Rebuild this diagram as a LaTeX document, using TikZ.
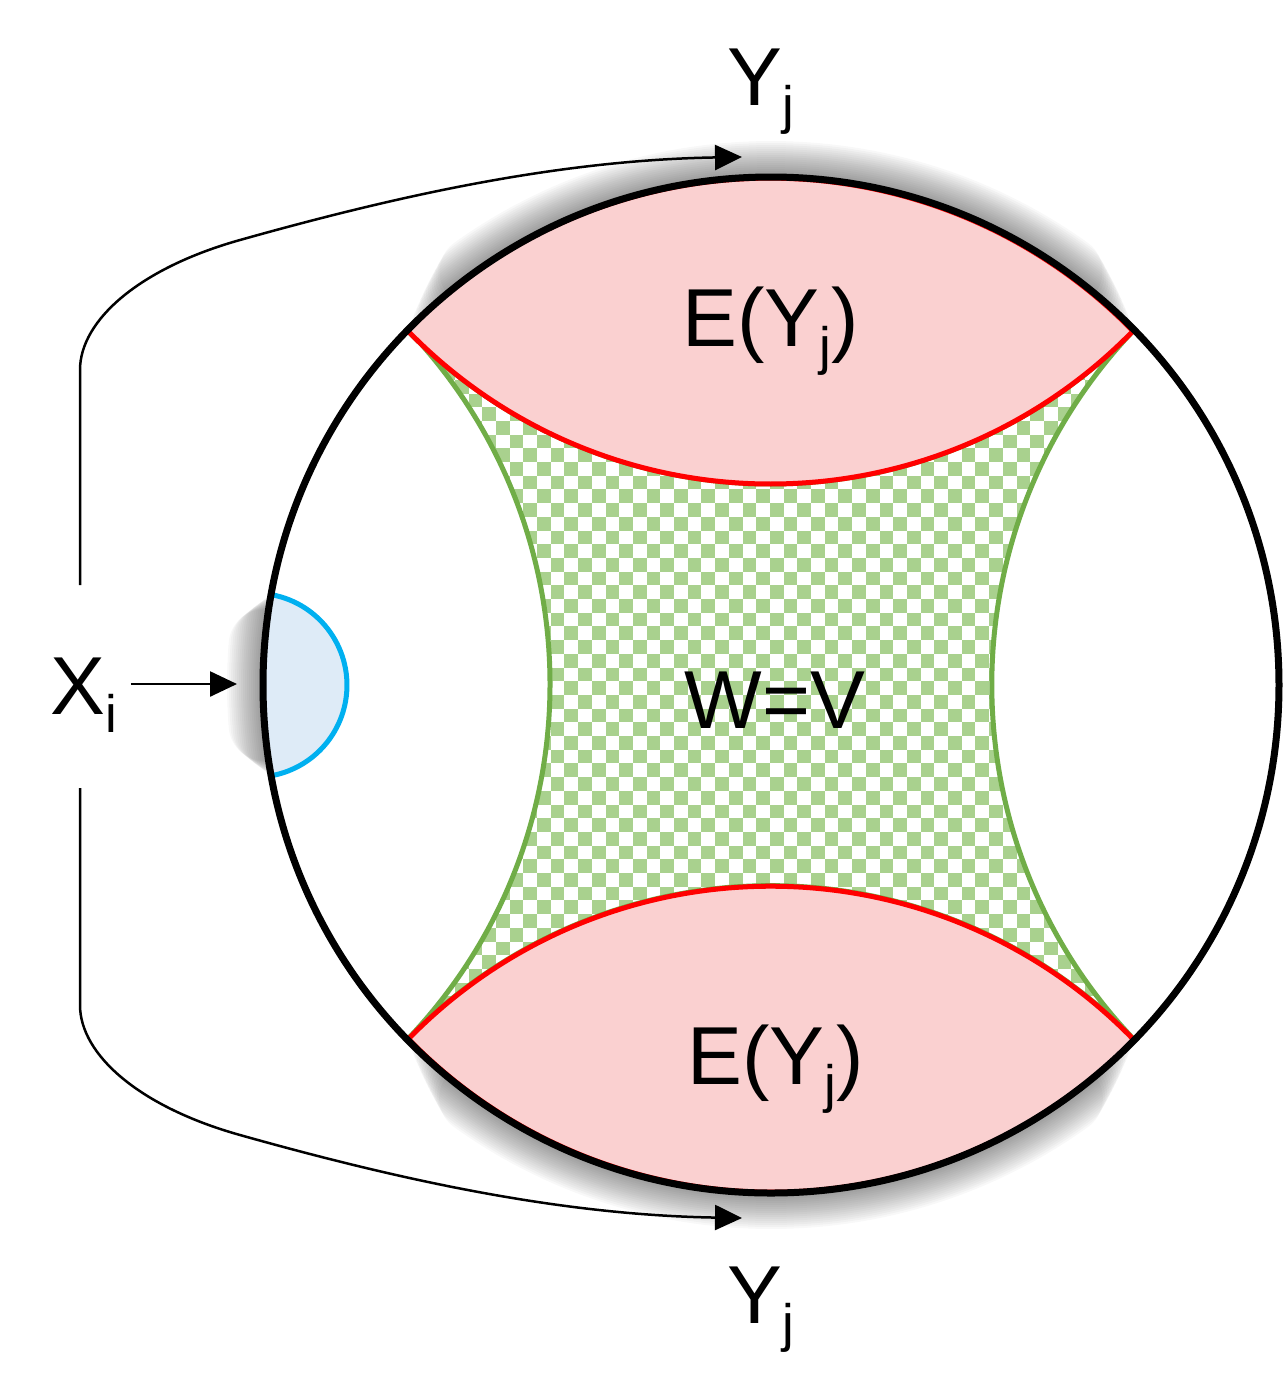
\documentclass[tikz,border=0pt]{standalone}
\usepackage{fontspec}
\setmainfont{Liberation Sans}
\usetikzlibrary{arrows.meta}

\definecolor{capfill}{RGB}{250,208,208}
\definecolor{capline}{RGB}{255,0,0}
\definecolor{wline}{RGB}{112,173,71}
\definecolor{wcheck}{RGB}{169,209,142}
\definecolor{xfill}{RGB}{222,235,247}
\definecolor{xline}{RGB}{0,176,240}

\newcommand{\lsub}[1]{\raisebox{-5.4pt}{\fontsize{15}{15}\selectfont #1}}
% regions (pixel units, y down)
\newcommand{\capTop}{(408,331) arc[start angle=135.76,end angle=44.24,radius=506]
  arc[start angle=-44.35,end angle=-135.65,radius=508] -- cycle}
\newcommand{\capBot}{(1133,1039) arc[start angle=-44.27,end angle=-135.73,radius=506]
  arc[start angle=135.7,end angle=44.3,radius=508] -- cycle}
\newcommand{\regionW}{(408,331) arc[start angle=135.76,end angle=44.24,radius=506]
  arc[start angle=223.53,end angle=136.47,radius=513.6]
  arc[start angle=-44.27,end angle=-135.73,radius=506]
  arc[start angle=43.6,end angle=-43.6,radius=513.6] -- cycle}
\newcommand{\lensX}{(271.1,594.6) arc[start angle=-79.9,end angle=79.9,radius=92]
  arc[start angle=169.75,end angle=190.25,radius=508] -- cycle}

\begin{document}
\begin{tikzpicture}[x=0.1mm, y=-0.1mm,
  lbl/.style={inner sep=0pt, font=\fontsize{23.4}{28}\selectfont},
  arr/.style={-{Triangle[length=2.7mm, width=2.5mm]}, line width=0.25mm},
  shade/.style={black, opacity=0.028, line cap=round},
  edge/.style={line width=0.5mm}]
\useasboundingbox (0,0) rectangle (1284,1392);

% soft shadows (outer rims only)
\foreach \w in {4,8,...,72} {
  \pgfmathsetmacro{\d}{\w*0.14}
  \draw[shade, line width=\w*0.1mm] ([shift={(-135.65+\d:508)}]771,685)
    arc[start angle=-135.65+\d, end angle=-44.35-\d, radius=508];
  \draw[shade, line width=\w*0.1mm] ([shift={(135.7-\d:508)}]771,685)
    arc[start angle=135.7-\d, end angle=44.3+\d, radius=508];
  \pgfmathsetmacro{\e}{\w*0.08}
  \draw[shade, line width=\w*0.1mm] ([shift={(169.75+\e:508)}]771,685)
    arc[start angle=169.75+\e, end angle=190.25-\e, radius=508];
}
\fill[white] (771,685) circle[radius=508];

% W=V region
\begin{scope}
  \clip \regionW;
  \foreach \i in {0,...,26}
    \foreach \j in {0,...,26} {
      \fill[wcheck] ({400+2*\i*13.7},{325+2*\j*13.7}) rectangle ++(13.7,13.7);
      \fill[wcheck] ({400+(2*\i+1)*13.7},{325+(2*\j+1)*13.7}) rectangle ++(13.7,13.7);
    }
\end{scope}
\draw[wline, edge] \regionW;

% wedges
\filldraw[fill=capfill, draw=capline, edge] \capTop;
\filldraw[fill=capfill, draw=capline, edge] \capBot;
\fill[xfill] \lensX;
\draw[xline, edge] (271.1,594.6) arc[start angle=-79.9,end angle=79.9,radius=92];
\draw[line width=0.7mm] (771,685) circle[radius=508];

% labels
\node[lbl, anchor=base west] (yTop) at (727,105) {Y\lsub{j}};
\node[lbl, anchor=base west] (yBot) at (727,1323) {Y\lsub{j}};
\node[lbl, anchor=base west, inner xsep=1.3mm] (xi) at (37,714) {X\lsub{i}};
\node[lbl, anchor=base west] (eTop) at (682,346) {E(Y\lsub{j})};
\node[lbl, anchor=base west] (eBot) at (687,1084) {E(Y\lsub{j})};
\node[lbl, anchor=base west] (wv) at (684,728) {W=V};

% arrows
\coordinate (xtip) at (237,684);
\coordinate (topstart) at (80,585);
\coordinate (toptip) at (742,157);
\coordinate (botstart) at (80,788);
\coordinate (bottip) at (742,1218);
\draw[arr] (xi.east |- xtip) -- (xtip);
\draw[arr] (topstart) -- (80,370) .. controls (80,320) and (140,268) .. (240,240)
  .. controls (400,195) and (560,160) .. (toptip);
\draw[arr] (botstart) -- (80,1005) .. controls (80,1055) and (140,1107) .. (240,1135)
  .. controls (400,1180) and (560,1215) .. (bottip);
\end{tikzpicture}
\end{document}
